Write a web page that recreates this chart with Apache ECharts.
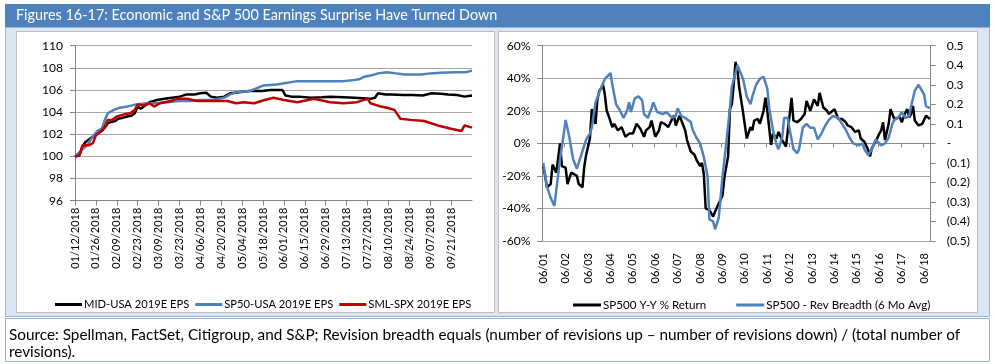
<!DOCTYPE html>
<html><head><meta charset="utf-8">
<script src="https://cdn.jsdelivr.net/npm/echarts@6/dist/echarts.min.js"></script>
<style>html,body{margin:0;padding:0;background:#fff}#c{width:995px;height:364px}</style>
</head><body><div id="c"></div>
<script>
// ---------- DATA ----------
const TITLE = 'Figures 16-17: Economic and S&P 500 Earnings Surprise Have Turned Down';
const FOOT1 = 'Source: Spellman, FactSet, Citigroup, and S&P; Revision breadth equals (number of revisions up \u2013 number of revisions down) / (total number of';
const FOOT2 = 'revisions).';

// Left chart: days since 2018-01-12
const leftStart = '2018-01-12';
const leftDays = 267;
const leftLabelEvery = 14, leftLastLabel = 252;
const leftNames = ['MID-USA 2019E EPS', 'SP50-USA 2019E EPS', 'SML-SPX 2019E EPS'];
const midDay = [0,3,5,7,10,12,15,18,20,22,24,27,29,32,35,38,40,42,44,47,50,55,60,65,70,75,80,84,88,91,95,100,104,110,117,125,131,139,141,145,150,158,165,171,180,187,193,198,201,203,208,212,220,226,233,239,245,250,256,261,266];
const midEPS = [100,100.1,100.9,101.3,101.6,101.8,102.1,102.3,102.6,103.0,103.1,103.2,103.4,103.5,103.6,103.7,103.9,104.5,104.3,104.6,104.9,105.1,105.2,105.3,105.4,105.6,105.6,105.7,105.75,105.4,105.3,105.4,105.7,105.8,105.9,105.9,106.0,106.0,105.5,105.4,105.4,105.3,105.35,105.4,105.35,105.3,105.25,105.2,105.3,105.7,105.6,105.6,105.55,105.55,105.5,105.7,105.65,105.6,105.55,105.4,105.5];
const spDay = [0,4,8,12,15,18,20,22,26,30,35,41,48,55,62,70,77,84,92,100,104,108,117,126,135,149,160,171,180,187,191,194,198,203,209,215,221,232,238,245,255,262,266];
const spEPS = [100,100.5,101.0,101.8,102.3,102.5,103.3,103.9,104.2,104.4,104.5,104.7,104.8,104.8,104.9,105.0,105.0,105.1,105.1,105.3,105.6,105.8,105.9,106.4,106.5,106.8,106.8,106.8,106.8,106.9,107.0,107.2,107.3,107.5,107.6,107.5,107.4,107.4,107.5,107.55,107.6,107.6,107.75];
const smlDay = [0,3,5,9,12,14,17,20,22,25,28,33,37,40,42,46,50,53,57,64,68,75,82,93,102,108,113,120,127,133,140,149,160,171,180,189,196,198,205,209,214,218,225,234,243,252,259,261,266];
const smlEPS = [100,100.1,101.0,101.0,101.2,101.9,102.2,102.7,103.3,103.3,103.6,103.8,103.9,104.2,104.7,104.6,104.8,104.5,104.8,105.0,105.2,105.2,105.0,105.0,105.0,104.8,104.9,104.8,105.1,105.3,105.1,104.9,105.2,104.9,104.8,104.9,105.2,104.8,104.5,104.4,104.2,103.4,103.3,103.2,102.8,102.5,102.3,102.8,102.6];
const leftTicks = [96, 110, 2];

// Right chart: months since 2001-06
const rightStartYear = 2001, rightStartMonth = 6, rightMonths = 208;
const rightNames = ['SP500 Y-Y % Return', 'SP500 - Rev Breadth (6 Mo Avg)'];
const retMonth = [0,1,2,4,5,6,7,9,10,12,13,15,16,18,19,20,21,22,23,25,26,28,29,30,32,33,34,35,37,38,40,42,44,46,48,50,52,54,55,57,58,60,62,63,65,67,69,70,71,73,74,76,77,79,81,82,84,85,86,87,89,91,92,94,96,97,99,100,101,102,103,104,105,107,108,109,111,112,113,115,116,118,119,120,122,123,125,126,128,130,131,133,134,136,138,140,141,143,145,147,148,150,152,153,156,157,158,160,162,163,165,167,169,170,172,174,175,176,178,180,181,182,183,185,186,188,189,191,192,194,195,196,197,198,199,201,203,204,205,207];
const retPct = [-14,-20,-27,-25,-13,-12,-18,0,-14,-15,-25,-18,-17,-20,-25,-25,-27,-14,-7,3,21,12,27,32,36,30,20,17,10,12,8,10,4,6,6,12,9,4,8,10,14,4,8,13,12,10,15,17,11,17,14,8,2,-5,-7,-10,-14,-12,-19,-40,-41,-45,-42,-37,-32,-21,-8,21,24,36,50,45,34,19,11,3,10,8,14,15,12,20,28,20,-1,6,3,7,2,-2,8,28,14,13,15,18,26,20,27,23,31,22,20,18,21,21,15,15,13,11,10,7,8,3,1,-4,-8,-3,1,6,8,13,2,12,21,15,14,16,13,19,21,16,18,23,14,11,12,13,17,15];
const brMonth = [0,2,4,6,7,9,11,12,14,16,18,20,21,23,25,26,28,30,33,36,37,39,41,43,45,46,47,49,51,53,54,56,58,59,61,62,64,66,69,71,72,74,76,79,80,82,84,86,88,89,91,92,94,96,98,100,101,104,105,107,109,111,112,114,116,118,120,121,123,125,126,128,129,131,132,134,136,137,139,141,143,145,147,149,151,153,155,158,160,162,164,166,169,171,172,174,176,178,179,181,183,185,187,188,190,192,194,196,197,199,201,202,204,205,207];
const brVal = [-0.10,-0.22,-0.28,-0.32,-0.24,-0.08,0.05,0.12,0.03,-0.08,-0.13,-0.07,-0.04,0.02,0.05,0.08,0.21,0.26,0.33,0.36,0.30,0.20,0.17,0.13,0.17,0.21,0.16,0.23,0.24,0.22,0.15,0.13,0.18,0.21,0.16,0.16,0.15,0.16,0.13,0.14,0.18,0.14,0.13,0.11,0.07,0.03,0.00,-0.07,-0.17,-0.39,-0.40,-0.44,-0.38,-0.17,0.00,0.18,0.29,0.40,0.39,0.33,0.24,0.20,0.24,0.30,0.33,0.34,0.28,0.18,0.07,-0.01,-0.03,0.03,0.13,0.13,0.07,-0.03,-0.05,-0.03,0.08,0.10,0.08,0.08,0.02,0.05,0.09,0.12,0.14,0.13,0.10,0.07,0.03,0.00,-0.01,0.00,-0.03,-0.06,-0.03,0.02,0.03,-0.01,0.00,0.03,0.10,0.12,0.13,0.16,0.13,0.14,0.19,0.27,0.30,0.31,0.25,0.19,0.18];
const retTicks = [-60, 60, 20];
const brTicks = [-0.5, 0.5, 0.1];

// ---------- BUILD ----------
function pad(n){return (n<10?'0':'')+n;}
const leftCats = [];
{ const d0 = new Date(leftStart + 'T00:00:00Z');
  for (let i=0;i<leftDays;i++){ const d = new Date(d0.getTime()+i*86400000);
    leftCats.push(pad(d.getUTCMonth()+1)+'/'+pad(d.getUTCDate())+'/'+d.getUTCFullYear()); } }
const rightCats = [];
for (let i=0;i<rightMonths;i++){ const t = rightStartMonth-1+i; const y = rightStartYear + Math.floor(t/12); const m = t%12+1;
  rightCats.push(pad(m)+'/'+pad(y%100)); }
function sparse(len, idx, vals){ const a = new Array(len).fill(null); idx.forEach((k,i)=>{a[k]=vals[i];}); return a; }
const leftShow = (i)=> i%leftLabelEvery===0 && i<=leftLastLabel;

const FONT = 'Lato, "Open Sans", sans-serif';
const gridCol = '#A6A6A6', axisCol = '#868686';
const BLUE = '#4F81BD', RED = '#C00000';

const chart = echarts.init(document.getElementById('c'));
chart.setOption({
  animation: false,
  textStyle: { fontFamily: FONT, color: '#000' },
  graphic: [
    { type:'rect', z:-10, shape:{x:5,y:4,width:985,height:23}, style:{fill:'#4F81BD'} },
    { type:'text', z:-9, x:16, y:15.5, style:{text:TITLE, fill:'#fff', font:'14.4px '+FONT, verticalAlign:'middle'} },
    { type:'rect', z:-10, shape:{x:5.5,y:27.5,width:984,height:289}, style:{fill:'#DBE5F1', stroke:'#95B3D7', lineWidth:1} },
    { type:'rect', z:-9, shape:{x:16.5,y:31.5,width:478,height:281}, style:{fill:'#fff', stroke:'#BFBFBF', lineWidth:1} },
    { type:'rect', z:-9, shape:{x:498.5,y:31.5,width:479,height:281}, style:{fill:'#fff', stroke:'#BFBFBF', lineWidth:1} },
    { type:'rect', z:-10, shape:{x:5.5,y:318.5,width:984,height:43}, style:{fill:'#fff', stroke:'#95B3D7', lineWidth:1} },
    { type:'text', z:-9, x:9, y:335, style:{text:FOOT1, fill:'#000', font:'15.3px '+FONT, verticalAlign:'middle'} },
    { type:'text', z:-9, x:9, y:352, style:{text:FOOT2, fill:'#000', font:'15.3px '+FONT, verticalAlign:'middle'} }
  ],
  legend: [
    { data: leftNames, left: 50, top: 294, icon:'rect', itemWidth:27, itemHeight:3, itemGap:6,
      textStyle:{fontSize:11.2, fontFamily:FONT, color:'#000', padding:[0,0,0,-3]} },
    { data: rightNames, left: 568, top: 294, icon:'rect', itemWidth:28, itemHeight:3, itemGap:30,
      textStyle:{fontSize:11.6, fontFamily:FONT, color:'#000', padding:[0,0,0,-3]} }
  ],
  grid: [
    { left:75, top:45.7, width:397, height:155, containLabel:false },
    { left:542.3, top:45.7, width:388.4, height:195.3, containLabel:false }
  ],
  xAxis: [
    { gridIndex:0, type:'category', data:leftCats, boundaryGap:false,
      axisLine:{lineStyle:{color:axisCol}}, axisTick:{interval:leftShow, length:5, lineStyle:{color:axisCol}},
      axisLabel:{interval:leftShow, rotate:90, margin:7, fontSize:11, color:'#000', fontFamily:FONT},
      splitLine:{show:false} },
    { gridIndex:1, type:'category', data:rightCats, boundaryGap:true, position:'bottom',
      axisLine:{show:false, onZero:false}, axisTick:{show:false},
      axisLabel:{interval:(i)=>i%12===0, rotate:90, margin:12, fontSize:11, color:'#000', fontFamily:FONT},
      splitLine:{show:false} },
    { gridIndex:1, type:'category', data:rightCats, boundaryGap:true, position:'bottom',
      axisLine:{show:true, onZero:true, lineStyle:{color:axisCol}},
      axisTick:{show:true, interval:11, length:4, lineStyle:{color:axisCol}},
      axisLabel:{show:false}, splitLine:{show:false} }
  ],
  yAxis: [
    { gridIndex:0, type:'value', min:leftTicks[0], max:leftTicks[1], interval:leftTicks[2],
      axisLine:{show:true, lineStyle:{color:axisCol}}, axisTick:{show:true, length:5, lineStyle:{color:axisCol}},
      axisLabel:{margin:12, fontSize:12, color:'#000', fontFamily:FONT},
      splitLine:{lineStyle:{color:gridCol, width:1}} },
    { gridIndex:1, type:'value', min:retTicks[0], max:retTicks[1], interval:retTicks[2],
      axisLine:{show:true, lineStyle:{color:axisCol}}, axisTick:{show:true, length:5, lineStyle:{color:axisCol}},
      axisLabel:{margin:12, fontSize:12, color:'#000', fontFamily:FONT, formatter:'{value}%'},
      splitLine:{lineStyle:{color:gridCol, width:1}} },
    { gridIndex:1, type:'value', position:'right', min:brTicks[0], max:brTicks[1], interval:brTicks[2],
      axisLine:{show:true, lineStyle:{color:axisCol}}, axisTick:{show:true, length:5, lineStyle:{color:axisCol}},
      axisLabel:{margin:16, fontSize:12, color:'#000', fontFamily:FONT,
        formatter:(v)=>{ const r = Math.round(v*10)/10; if (r===0) return '-'; return r<0 ? '('+Math.abs(r).toFixed(1)+')' : r.toFixed(1); }},
      splitLine:{show:false} }
  ],
  series: [
    { name:leftNames[0], type:'line', xAxisIndex:0, yAxisIndex:0, data:sparse(leftDays, midDay, midEPS), connectNulls:true, symbol:'none', lineStyle:{color:'#000', width:2.5}, itemStyle:{color:'#000'}, z:3 },
    { name:leftNames[1], type:'line', xAxisIndex:0, yAxisIndex:0, data:sparse(leftDays, spDay, spEPS), connectNulls:true, symbol:'none', lineStyle:{color:BLUE, width:2.5}, itemStyle:{color:BLUE}, z:4 },
    { name:leftNames[2], type:'line', xAxisIndex:0, yAxisIndex:0, data:sparse(leftDays, smlDay, smlEPS), connectNulls:true, symbol:'none', lineStyle:{color:RED, width:2.5}, itemStyle:{color:RED}, z:5 },
    { name:rightNames[0], type:'line', xAxisIndex:1, yAxisIndex:1, data:sparse(rightMonths, retMonth, retPct), connectNulls:true, symbol:'none', lineStyle:{color:'#000', width:2.5}, itemStyle:{color:'#000'}, z:3 },
    { name:rightNames[1], type:'line', xAxisIndex:1, yAxisIndex:2, data:sparse(rightMonths, brMonth, brVal), connectNulls:true, symbol:'none', lineStyle:{color:BLUE, width:2.5}, itemStyle:{color:BLUE}, z:4 }
  ]
});
</script></body></html>
